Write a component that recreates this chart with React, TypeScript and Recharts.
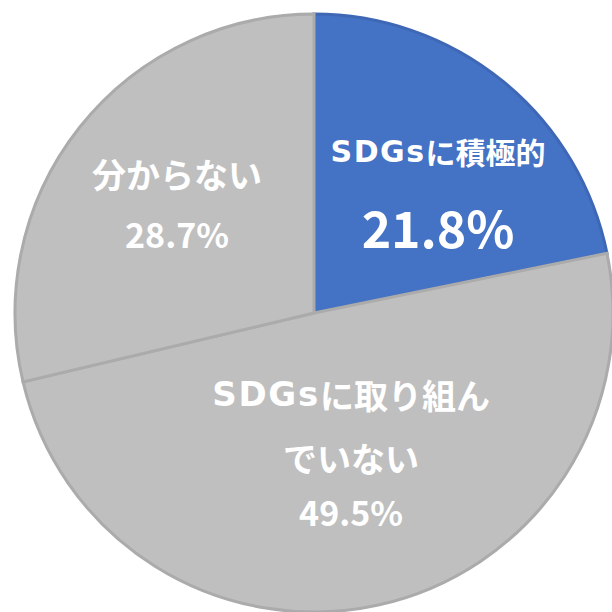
import React from "react";
import { PieChart, Pie, Cell } from "recharts";

const categories = ["SDGsに積極的", "SDGsに取り組んでいない", "分からない"];
const values = [21.8, 49.5, 28.7];
const labelLines = [
  ["SDGsに積極的", "21.8%"],
  ["SDGsに取り組ん", "でいない", "49.5%"],
  ["分からない", "28.7%"],
];

const colors = ["#4472C4", "#BFBFBF", "#BFBFBF"];
const strokes = ["#3E68B5", "#ABABAB", "#ABABAB"];

// label placement (fractions of outer radius, relative to centre) and sizes
const labelLayout = [
  { dx: 0.415, dys: [-0.542, -0.29], sizes: [30, 50] },
  { dx: 0.124, dys: [0.27, 0.484, 0.664], sizes: [34, 34, 34] },
  { dx: -0.458, dys: [-0.466, -0.266], sizes: [34, 34] },
];

const data = categories.map((name, i) => ({ name, value: values[i] }));

const renderLine = (t: string, size: number) => {
  if (t.startsWith("SDGs")) {
    return (
      <>
        <tspan fontFamily="'DejaVu Sans', sans-serif" letterSpacing={size * 0.05}>SDGs</tspan>
        <tspan>{t.slice(4)}</tspan>
      </>
    );
  }
  return t;
};

const renderLabel = (props: any) => {
  const { cx, cy, outerRadius, index } = props;
  const lay = labelLayout[index];
  const lines = labelLines[index];
  return (
    <g>
      {lines.map((t, j) => (
        <text
          key={j}
          x={cx + lay.dx * outerRadius}
          y={cy + lay.dys[j] * outerRadius}
          fill="#FFFFFF"
          textAnchor="middle"
          dominantBaseline="central"
          fontSize={lay.sizes[j]}
          fontWeight={700}
          fontFamily="'Noto Sans CJK JP', 'Noto Sans', sans-serif"
        >
          {renderLine(t, lay.sizes[j])}
        </text>
      ))}
    </g>
  );
};

export default function App() {
  return (
    <div style={{ position: "absolute", left: 0, top: 0, width: 612, height: 612, background: "#FFFFFF" }}>
      <PieChart width={612} height={612} margin={{ top: 0, right: 0, bottom: 0, left: 0 }}>
        <Pie
          data={data}
          dataKey="value"
          nameKey="name"
          cx={314}
          cy={313}
          innerRadius={0}
          outerRadius={299}
          startAngle={90}
          endAngle={-270}
          label={renderLabel}
          labelLine={false}
          isAnimationActive={false}
        >
          {data.map((d, i) => (
            <Cell key={d.name} fill={colors[i]} stroke={strokes[i]} strokeWidth={3} />
          ))}
        </Pie>
      </PieChart>
    </div>
  );
}
